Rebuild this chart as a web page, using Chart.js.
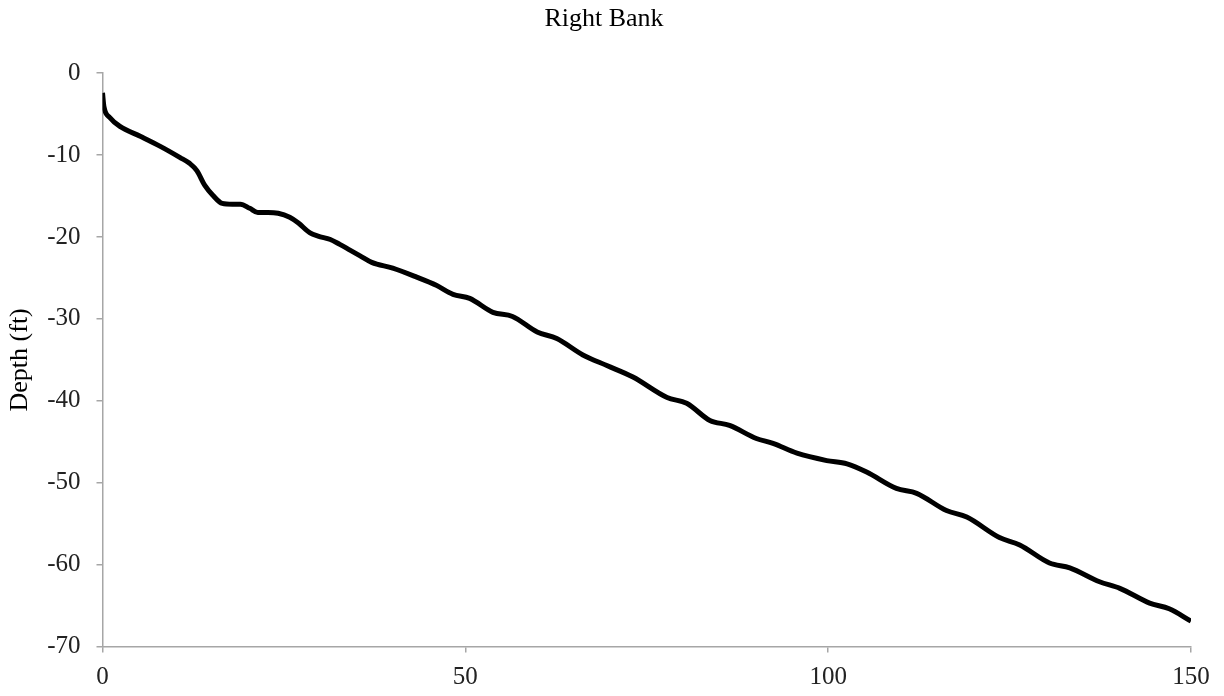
<!DOCTYPE html>
<html>
<head>
<meta charset="utf-8">
<title>Right Bank</title>
<script src="https://cdn.jsdelivr.net/npm/chart.js@4/dist/chart.umd.min.js"></script>
<style>
    html, body { margin: 0; padding: 0; background: #fff; }
    #wrap { width: 1224px; height: 696px; }
</style>
</head>
<body>
<div id="wrap"><canvas id="bankChart"></canvas></div>
<script>
// distance from bank (ft) and depth (ft)
const distance = [0, 0.2, 1, 2.4, 5.2, 7.9, 10.7, 12, 13, 14.1, 15.2, 16.5, 17.9, 19, 20.3, 21.4, 22.8, 24.2, 25.8, 27,
    28.6, 29.7, 31.4, 32.7, 34.1, 35.5, 37.1, 40, 43.3, 46, 48.3, 50.6, 53.8, 56.5, 59.9, 62.6, 66.2, 69.5, 73.1, 77.8,
    80.5, 83.7, 86.4, 90.1, 92.4, 95.7, 99.8, 102.6, 105.3, 109.4, 112.2, 116.3, 119.1, 123.6, 126.4, 130.5, 133.3,
    137.4, 140.2, 144.3, 147, 150];
const depth = [-2.4, -4.1, -5.4, -6.5, -7.7, -8.9, -10.3, -11, -11.9, -13.7, -14.9, -15.9, -16, -16, -16.5, -17, -17, -17.1, -17.6, -18.3,
    -19.5, -19.9, -20.3, -20.9, -21.6, -22.3, -23.1, -23.8, -24.9, -25.9, -27, -27.5, -29.2, -29.7, -31.6, -32.4, -34.4, -35.7, -37.1, -39.6,
    -40.3, -42.4, -43, -44.6, -45.2, -46.4, -47.3, -47.7, -48.7, -50.7, -51.3, -53.4, -54.2, -56.7, -57.6, -59.8, -60.4,
    -62.1, -62.9, -64.7, -65.4, -66.9];
const xTicks = [0, 50, 100, 150];
const yTicks = [0, -10, -20, -30, -40, -50, -60, -70];

document.addEventListener("DOMContentLoaded", function() {
    const ctx = document.getElementById("bankChart").getContext("2d");
    const points = distance.map((d, i) => ({ x: d, y: depth[i] }));
    const axisGray = "#a6a6a6";
    const serif = "'Liberation Serif', 'Times New Roman', serif";

    new Chart(ctx, {
        type: "scatter",
        data: {
            datasets: [{
                data: points,
                showLine: true,
                borderColor: "#000",
                borderWidth: 5,
                pointRadius: 0,
                cubicInterpolationMode: "monotone",
                fill: false
            }]
        },
        options: {
            responsive: true,
            maintainAspectRatio: false,
            animation: false,
            layout: { padding: { left: 17, right: 33, top: 0, bottom: 0 } },
            plugins: {
                legend: { display: false },
                tooltip: { enabled: false },
                title: {
                    display: true,
                    text: "Right Bank",
                    color: "#000",
                    font: { family: serif, size: 26, weight: "normal" },
                    padding: { top: 4, bottom: 38 }
                }
            },
            scales: {
                x: {
                    type: "linear",
                    min: 0,
                    max: 150,
                    afterBuildTicks: axis => { axis.ticks = xTicks.map(v => ({ value: v })); },
                    afterFit: axis => { axis.height = 49.5; },
                    grid: { drawOnChartArea: false, tickLength: 6, color: axisGray, lineWidth: 1.5 },
                    border: { color: axisGray, width: 1.5 },
                    ticks: { color: "#222", padding: 10, maxRotation: 0, font: { family: serif, size: 25 } }
                },
                y: {
                    type: "linear",
                    min: -70,
                    max: 0,
                    afterBuildTicks: axis => { axis.ticks = yTicks.map(v => ({ value: v })); },
                    afterFit: axis => { axis.width = 85.5; },
                    grid: { drawOnChartArea: false, tickLength: 6, color: axisGray, lineWidth: 1.5 },
                    border: { color: axisGray, width: 1.5 },
                    ticks: { color: "#222", padding: 16, font: { family: serif, size: 25 } },
                    title: {
                        display: true,
                        text: "Depth (ft)",
                        color: "#000",
                        font: { family: serif, size: 26 },
                        padding: { top: -12, bottom: 0 }
                    }
                }
            }
        }
    });
});
</script>
</body>
</html>
